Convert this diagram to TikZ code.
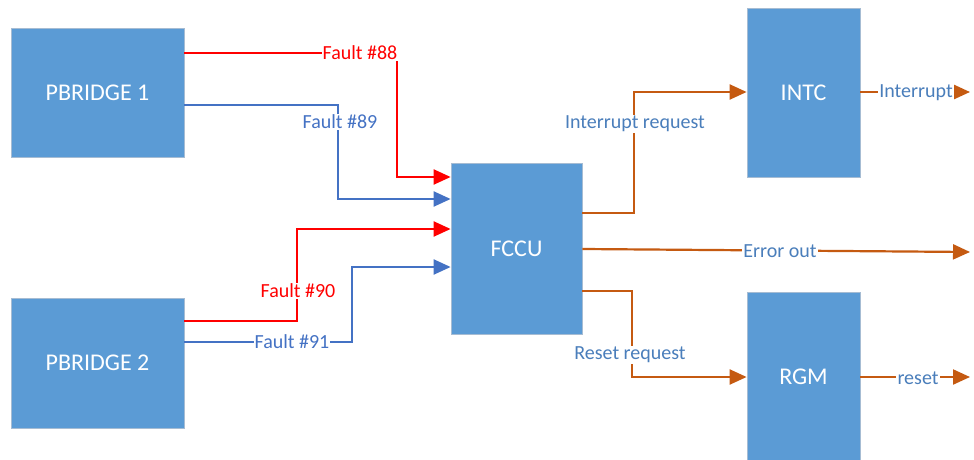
\documentclass[tikz,border=0pt]{standalone}
\usepackage{fontspec}
\setmainfont{Carlito}
\usetikzlibrary{arrows.meta}
\definecolor{boxfill}{HTML}{5B9BD5}
\definecolor{boxline}{HTML}{A6BCD3}
\definecolor{fred}{HTML}{FF0000}
\definecolor{fblue}{HTML}{4472C4}
\definecolor{forange}{HTML}{C55A11}
\definecolor{lblue}{HTML}{4A7EBB}
\begin{document}
\begin{tikzpicture}[x=1pt,y=-1pt,
  blk/.style={draw=boxline, line width=0.8pt, fill=boxfill, text=white,
    font=\fontsize{24}{28}\selectfont, inner sep=0pt},
  conn/.style={line width=2.2pt, -{Triangle[length=17pt,width=15pt]}},
  redc/.style={conn, draw=fred},
  bluec/.style={conn, draw=fblue},
  orc/.style={conn, draw=forange},
  lbl/.style={fill=white, inner sep=1pt, font=\fontsize{20}{23}\selectfont},
  redl/.style={lbl, text=fred},
  bluel/.style={lbl, text=fblue},
  orl/.style={lbl, text=lblue}]
\useasboundingbox (0,0) rectangle (974,460);
\fill[white] (0,0) rectangle (974,460);
% blocks
\node[blk, minimum width=173pt, minimum height=129pt] (pb1) at (97.5,92.5) {PBRIDGE 1};
\node[blk, minimum width=173pt, minimum height=130pt] (pb2) at (97.5,363) {PBRIDGE 2};
\node[blk, minimum width=131pt, minimum height=171pt] (fccu) at (516.5,248.5) {FCCU};
\node[blk, minimum width=113pt, minimum height=169pt] (intc) at (803.5,92.5) {INTC};
\node[blk, minimum width=113pt, minimum height=170pt] (rgm) at (803.5,377) {RGM};
% free ends
\coordinate (intout) at (970,92);
\coordinate (errout) at (970,252);
\coordinate (rstout) at (970,377);
% fault lines
\draw[redc] (pb1.east |- 0,53) -| (397,177) -- (fccu.west |- 0,177);
\draw[bluec] (pb1.east |- 0,105) -| (338,199) -- (fccu.west |- 0,199);
\draw[redc] (pb2.east |- 0,321) -| (297,229) -- (fccu.west |- 0,229);
\draw[bluec] (pb2.east |- 0,342) -| (352,267) -- (fccu.west |- 0,267);
% outputs
\draw[orc] (fccu.east |- 0,213) -| (634,92) -- (intc.west |- 0,92);
\draw[orc] (intc.east |- 0,92) -- (intout);
\draw[orc] (fccu.east |- 0,249) -- (errout);
\draw[orc] (fccu.east |- 0,291) -| (632,377) -- (rgm.west |- 0,377);
\draw[orc] (rgm.east |- 0,377) -- (rstout);
% labels
\node[redl] (l88) at (360,53) {Fault \#88};
\node[bluel] (l89) at (340,122) {Fault \#89};
\node[redl] (l90) at (298,291) {Fault \#90};
\node[bluel] (l91) at (292,342) {Fault \#91};
\node[orl] (lir) at (635,124) {Interrupt request};
\node[orl] (li) at (916,93) {Interrupt};
\node[orl] (le) at (780,251) {Error out};
\node[orl] (lr) at (630,355) {Reset request};
\node[orl] (lrs) at (918,378) {reset};
\end{tikzpicture}
\end{document}
